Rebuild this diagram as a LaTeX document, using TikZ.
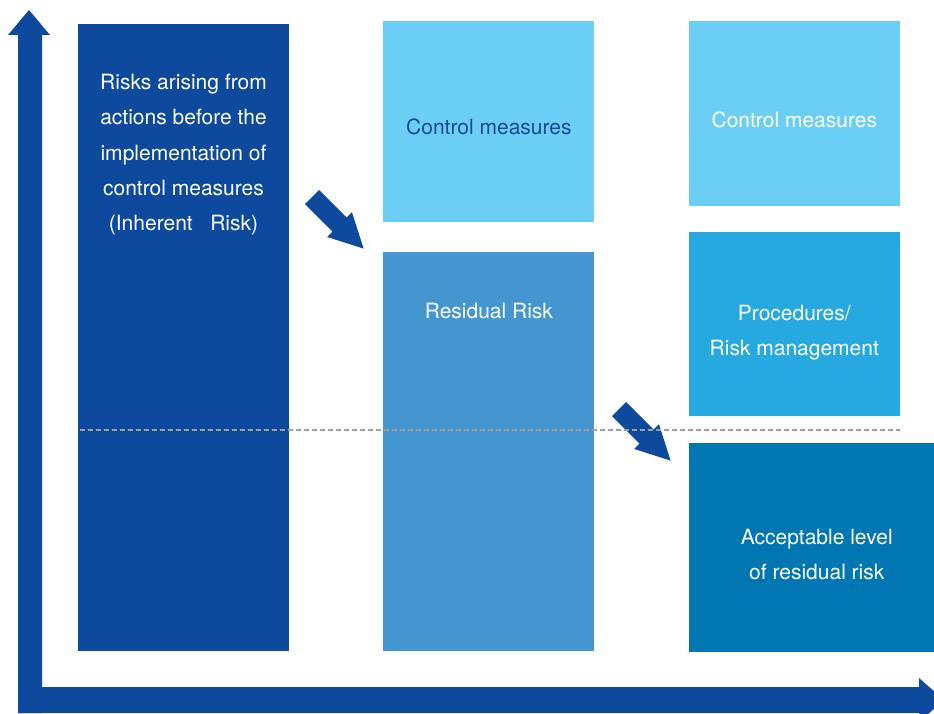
\documentclass[tikz,border=0pt]{standalone}
\usepackage{fontspec}
\setmainfont{TeX Gyre Heros}
\usetikzlibrary{positioning,calc}
\definecolor{navy}{RGB}{13,74,158}
\definecolor{sky}{RGB}{107,207,245}
\definecolor{midblue}{RGB}{68,150,208}
\definecolor{cyanblue}{RGB}{38,168,224}
\definecolor{deepblue}{RGB}{0,119,179}
\definecolor{ink}{RGB}{26,72,150}
\tikzset{blk/.style={rectangle, inner sep=0pt, minimum width=211pt}}
\tikzset{txt/.style={inner sep=0pt, align=center, text=white, font=\fontsize{21}{35.4}\selectfont}}
\tikzset{lvl/.style={draw=gray!75, line width=1.3pt, dash pattern=on 5pt off 3pt}}
\tikzset{fat/.pic={\fill[navy] (0,-10) -- (39,-10) -- (39,-17.5) -- (73,0) -- (39,17.5) -- (39,10) -- (0,10) -- cycle;}}

\begin{document}
\begin{tikzpicture}[x=1pt, y=1pt]
        \clip (0,0) rectangle (934,713);
        % axes
        \fill[navy] (18,0) -- (18,678) -- (8,678) -- (29,703) -- (50,678) -- (42,678) -- (42,0) -- cycle;
        \fill[navy] (18,0) -- (919,0) -- (919,-9) -- (944,13) -- (919,35) -- (919,26) -- (18,26) -- cycle;
        % boxes
        \node (b1) [blk, fill=navy, minimum height=627pt] at (183.5,375.5) {};
        \node (b2) [blk, fill=sky, minimum height=201pt, anchor=north west, below right=-3pt and 94pt of b1.north east] {};
        \node (b3) [blk, fill=midblue, minimum height=399pt, below=30pt of b2] {};
        \node (b4) [blk, fill=sky, minimum height=185pt, anchor=north west, below right=0pt and 94pt of b2.north east] {};
        \node (b5) [blk, fill=cyanblue, minimum height=184pt, below=26pt of b4] {};
        \node (b6) [blk, fill=deepblue, minimum width=246pt, minimum height=209pt, below right=26pt and 0pt of b5.south west] {};
        % texts
        \node (t1) [txt, below=50pt of b1.north] {Risks arising from\\actions before the\\implementation of\\control measures\\(Inherent\ \ \ Risk)};
        \node (t2) [txt, text=ink, below=97.5pt of b2.north] {Control measures};
        \node (t3) [txt, below=50.5pt of b3.north] {Residual Risk};
        \node (t4) [txt, below=90.5pt of b4.north] {Control measures};
        \node (t5) [txt, below=72.5pt of b5.north] {Procedures/\\Risk management};
        \node (t6) [txt, below=86pt of b6.north, xshift=5pt] {Acceptable level\\of residual risk};
        % arrows
        \coordinate (a1) at (312,516);
        \coordinate (a2) at (619,304);
        \pic[rotate=-45] at (a1) {fat};
        \pic[rotate=-45] at (a2) {fat};
        % acceptable level
        \coordinate (lvl) at (0,283);
        \draw[lvl] ([xshift=2pt]b1.west |- lvl) -- (b5.east |- lvl);
\end{tikzpicture}
\end{document}
